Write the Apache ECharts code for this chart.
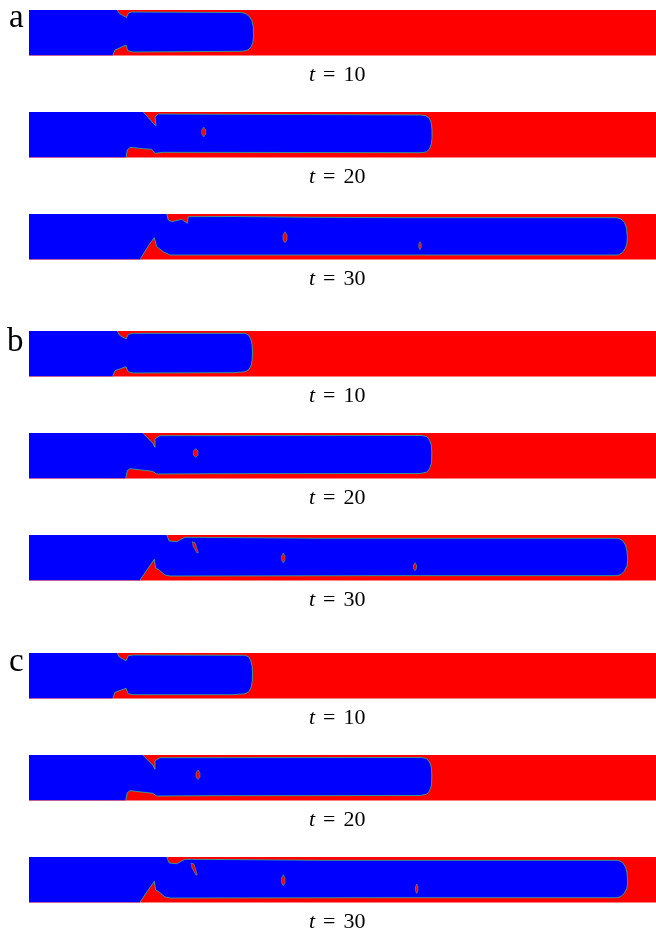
<!DOCTYPE html>
<html><head><meta charset="utf-8">
<style>html,body{margin:0;padding:0;background:#fff}#c{width:656px;height:933px}</style>
<script src="https://cdn.jsdelivr.net/npm/echarts@6/dist/echarts.min.js"></script>
</head><body><div id="c"></div>
<script>
// Channel coordinates: x along the channel, y down from the top wall.
const caseLabels = ['a', 'b', 'c'];
const timeLabels = [10, 20, 30];
const a10 = [[0,0],[88,0],[90.5,3.5],[97.5,7.5],[99.5,3],[102.5,2],[212,2.5],[217,3.8],[220.5,6.7],[223,11],[224.3,16.7],[224.6,25],[224,32],[222,37],[219,40],[215,41],[211,41.3],[104,42],[98.7,40.7],[97,35],[86,40],[83.7,45.5],[0,45.5]];
const a20 = [[0,0],[114.3,0],[124.3,11.3],[127,14],[126,4.7],[129.3,2],[392,3],[397,3.8],[400.3,6.3],[402.3,11],[403,18],[403,26],[402.3,32],[400.5,37],[397.7,39.7],[394,40.5],[391,40.7],[134.3,40.3],[126,41.3],[122.7,37.3],[114.3,36.7],[101,35.3],[98.3,38],[97,45.5],[0,45.5]];
const a30 = [[0,0],[137.7,0],[139.3,6],[142.7,7.7],[152.7,5.3],[158.3,9.3],[159.3,2.7],[201,2.5],[281,3.3],[371,3.7],[587.7,3.7],[592,5],[595.5,8.5],[597.5,14],[598.3,22.7],[598,29],[596.5,34],[593.5,38.5],[589.3,41],[371,41],[281,41],[141,41],[134.3,37.7],[127.7,32.7],[125.3,23.7],[121,29.3],[111.7,44.3],[111.7,45.5],[0,45.5]];
const b10 = [[0,0],[88.3,0],[90.3,4],[97,8],[99.3,3.3],[104.3,2.3],[216,2.3],[219.5,4],[221.5,7.5],[223,13],[223.5,20],[223.3,28],[222.3,34],[220,38.5],[216,40.8],[204,41.7],[104.3,42],[99,40.7],[97,35.7],[86,39.7],[83.7,45.5],[0,45.5]];
const b20 = [[0,0],[113.7,0],[123.7,10],[126,14.3],[126,5.7],[131,2.7],[393,2.5],[397.5,3.5],[400.5,7],[402.3,12],[402.8,20],[402.5,30],[400.5,36],[397.5,39.3],[391,40.5],[181,40.7],[127.7,41],[123.7,38.3],[101,35.7],[98.3,37.7],[96.7,45.5],[0,45.5]];
const b30 = [[0,0],[137.7,0],[140.3,6],[147.7,6.7],[156,2.3],[162.7,2.3],[291,3.3],[351,3.3],[589.3,3.3],[593.5,5.5],[596.5,10],[598,16],[598.7,25],[598,31],[595.5,36],[592,39.5],[588,40.7],[351,40.7],[141,41],[136,40],[129.3,34.3],[126.7,33.3],[125.3,24.3],[111,45],[111,45.5],[0,45.5]];
const c10 = [[0,0],[88.3,0],[90.3,4],[97,7.7],[99.3,2.7],[104.3,2],[216,2.3],[219.5,3.8],[221.5,7],[223,12.5],[223.5,20],[223.3,28],[222.3,34],[220,38.5],[216,40.8],[204,41.7],[104.3,41.7],[99,40.7],[97,35.3],[86,39.3],[83.7,45.5],[0,45.5]];
const c20 = [[0,0],[113.7,0],[123.7,10],[126,14.3],[126,5.7],[131,2.7],[393,2.5],[397.5,3.5],[400.5,7],[402.3,12],[402.8,20],[402.5,30],[400.5,36],[397.5,39.3],[391,40.5],[181,40.7],[127.7,41],[123.7,38.3],[101,35.7],[98.3,37.7],[96.7,45.5],[0,45.5]];
const c30 = [[0,0],[137.7,0],[140.3,6],[147.7,6.7],[156,2.3],[162.7,2.3],[291,3.3],[351,3.3],[589.3,3.3],[593.5,5.5],[596.5,10],[598,16],[598.7,25],[598,31],[595.5,36],[592,39.5],[588,40.7],[351,40.7],[141,41],[136,40],[129.3,34.3],[126.7,33.3],[125.3,24.3],[111,45],[111,45.5],[0,45.5]];
// Enclosed pockets of the red phase.
const a10Holes = [];
const a20Holes = [[[174.7,15],[176.7,18],[176.7,22],[174.7,25],[172.8,22],[172.8,18]]];
const a30Holes = [[[256,17.8],[258,21],[258,26],[256,28.8],[254,26],[254,21]],[[391,27.7],[392.2,30],[392.2,33.5],[391,35.7],[389.8,33.5],[389.8,30]]];
const b10Holes = [];
const b20Holes = [[[166.7,15.5],[169,18],[169,22],[166.7,24.5],[164.4,22],[164.4,18]]];
const b30Holes = [[[163.3,6.7],[166,7.7],[169.3,17.7],[168,18],[164,11]],[[254.3,18],[256,21],[256,25],[254.3,28],[252.6,25],[252.6,21]],[[386,27.7],[387.5,30],[387.5,33.5],[386,35.7],[384.5,33.5],[384.5,30]]];
const c10Holes = [];
const c20Holes = [[[169,15],[171,18],[171,22],[169,24.5],[167,22],[167,18]]];
const c30Holes = [[[162,6],[165,7],[168.3,17.7],[167,18],[163,11]],[[254.3,17.8],[256,21],[256,26],[254.3,28.8],[252.6,26],[252.6,21]],[[387.7,27],[389,30],[389,33.5],[387.7,36.5],[386.4,33.5],[386.4,30]]];

const fronts = [a10,a20,a30,b10,b20,b30,c10,c20,c30];
const holes = [a10Holes,a20Holes,a30Holes,b10Holes,b20Holes,b30Holes,c10Holes,c20Holes,c30Holes];
const panelTops = [10,112,214,331,433,535,653,755,857];
const BLUE='#0000ff', RED='#ff0000', RIM='#2fb08c';

const grid=[],xAxis=[],yAxis=[],series=[],title=[];
const rich={i:{fontFamily:'Liberation Serif',fontStyle:'italic',fontWeight:'normal',fontSize:22,color:'#000'},
            n:{fontFamily:'Liberation Serif',fontWeight:'normal',fontSize:22,color:'#000',padding:[0,0,0,8]}};
panelTops.forEach((top,k)=>{
  grid.push({left:29,top:top,width:627,height:45.5,show:true,backgroundColor:RED,borderWidth:0,containLabel:false});
  xAxis.push({gridIndex:k,type:'value',min:0,max:627,show:false});
  yAxis.push({gridIndex:k,type:'value',min:0,max:45.5,inverse:true,show:false});
  const pts=fronts[k], hs=holes[k];
  series.push({type:'custom',xAxisIndex:k,yAxisIndex:k,coordinateSystem:'cartesian2d',clip:true,silent:true,
    data:[[0,0]],
    renderItem:(p,api)=>{
      const c=q=>q.map(d=>api.coord(d));
      const kids=[
        {type:'polygon',shape:{points:c(pts)},style:{fill:BLUE}},
        {type:'polyline',shape:{points:c(pts.slice(1,-1))},style:{fill:null,stroke:RIM,lineWidth:1,opacity:0.85}}
      ];
      hs.forEach(h=>kids.push({type:'polygon',shape:{points:c(h)},style:{fill:RED,stroke:RIM,lineWidth:0.6}}));
      return {type:'group',children:kids};
    }});
  title.push({left:309,top:top+54,padding:0,text:'{i|t}{n|=}{n|'+timeLabels[k%3]+'}',textStyle:{fontWeight:'normal',rich}});
});
[[9,2,33],[7,326,33],[9,646,33]].forEach((pos,i)=>{
  title.push({left:pos[0],top:pos[1],padding:0,text:caseLabels[i],
    textStyle:{fontFamily:'Liberation Serif',fontWeight:'normal',fontSize:pos[2],color:'#000'}});
});
const chart=echarts.init(document.getElementById('c'),null,{renderer:'canvas'});
chart.setOption({animation:false,backgroundColor:'#fff',tooltip:{show:false},grid,xAxis,yAxis,series,title});
</script></body></html>
